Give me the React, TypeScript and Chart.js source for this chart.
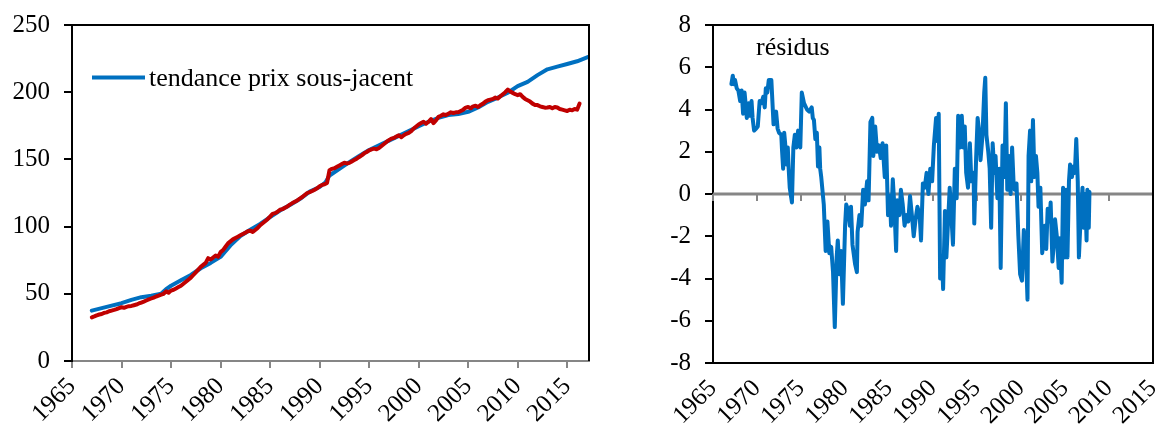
import React, { useEffect, useRef } from "react";
import { Chart, registerables } from "chart.js";

Chart.register(...registerables);

const BLUE = "#0070C0";
const RED = "#C00000";
const AXIS_GREY = "#868686";

// ---- tick labels ----
const leftTickYears = [1965, 1970, 1975, 1980, 1985, 1990, 1995, 2000, 2005, 2010, 2015];
const rightTickYears = [1965, 1970, 1975, 1980, 1985, 1990, 1995, 2000, 2005, 2010, 2015];
const leftYTicks = [0, 50, 100, 150, 200, 250];
const rightYTicks = [-8, -6, -4, -2, 0, 2, 4, 6, 8];

// ---- left panel: trend (blue) ----
const trendYears = [
  1967, 1968, 1969, 1970, 1971, 1972, 1973, 1974, 1974.5, 1975, 1976, 1977, 1978, 1979, 1980,
  1981, 1982, 1983, 1984, 1985, 1986, 1987, 1988, 1989, 1990, 1990.6, 1991, 1992, 1993, 1994,
  1995, 1996, 1997, 1998, 1999, 2000, 2001, 2002, 2003, 2004, 2005, 2006, 2007, 2008, 2009,
  2010, 2011, 2012, 2013, 2014, 2015, 2016, 2017.2,
];
const trendValues = [
  37.5, 39.3, 41.2, 43.0, 45.5, 47.5, 48.5, 50.0, 53.5, 56.0, 60.0, 64.0, 69.0, 73.0, 77.5,
  86.0, 93.0, 97.7, 102.0, 107.0, 112.0, 116.0, 120.5, 126.0, 129.5, 133.0, 138.0, 143.0, 148.0, 152.6,
  157.0, 160.5, 164.0, 167.5, 171.0, 174.7, 178.0, 181.0, 183.0, 183.7, 185.4, 188.6, 192.8, 196.0, 199.6,
  204.5, 207.7, 212.7, 217.0, 219.0, 221.0, 223.0, 226.5,
];

// ---- left panel: observed price (red), quarterly from 1967 Q1 ----
const priceStartYear = 1967;
const priceValues = [
  32.5, 33.2, 34.0, 34.6,
  35.0, 35.8, 36.2, 37.0,
  37.5, 38.0, 38.6, 39.4,
  40.0, 39.6, 40.3, 40.8,
  41.0, 41.5, 42.0, 42.8,
  43.5, 44.2, 45.0, 45.8,
  46.5, 47.2, 48.0, 48.6,
  49.3, 50.0, 51.8, 50.8,
  52.4, 53.0, 54.0, 55.0,
  56.0, 57.5, 59.0, 60.5,
  62.0, 64.0, 66.0, 68.0,
  70.0, 71.5, 73.0, 76.5,
  75.5, 77.0, 78.5, 77.5,
  81.0, 82.5, 85.0, 87.5,
  89.0, 90.5, 91.5, 92.5,
  93.5, 94.5, 95.5, 96.5,
  97.0, 96.0, 97.5, 99.0,
  101.0, 102.5, 104.0, 105.5,
  107.5, 109.5, 110.0, 111.0,
  112.5, 113.0, 114.0, 115.0,
  116.3, 117.5, 118.5, 119.5,
  120.8, 122.0, 123.5, 125.0,
  125.7, 126.5, 127.5, 128.5,
  130.0, 131.0, 131.5, 132.5,
  142.0, 143.0, 143.5, 144.5,
  145.5, 146.5, 147.5, 147.0,
  147.4, 148.5, 149.5, 150.5,
  151.8, 153.0, 154.5, 155.5,
  156.8, 157.5, 158.0, 157.5,
  158.5, 160.0, 161.5, 163.0,
  164.3, 165.5, 166.0, 167.0,
  168.0, 166.5, 168.0, 169.0,
  169.7, 171.0, 173.0, 174.5,
  176.0, 177.0, 178.0, 176.5,
  178.0, 180.0, 177.0, 179.0,
  181.7, 182.5, 183.5, 183.0,
  184.0, 185.0, 184.5, 185.0,
  185.0, 186.0, 187.0, 188.5,
  189.0, 188.0, 189.5, 190.0,
  189.0, 190.5, 191.5, 193.0,
  194.0, 194.5, 195.0, 196.0,
  195.3, 197.0, 198.5, 200.0,
  202.0, 200.5, 199.5, 198.5,
  197.8, 198.5, 196.5, 195.0,
  194.0, 193.0, 191.5, 190.5,
  190.4, 189.5, 189.0, 188.5,
  188.6, 189.0, 188.0, 189.0,
  188.6, 187.5, 187.0, 186.5,
  186.0, 187.0, 186.5, 187.5,
  187.0, 191.6,
];

// ---- right panel: residuals ----
const resYears = [
  1967.09, 1967.25, 1967.38, 1967.5, 1967.7, 1967.88, 1968.09, 1968.25, 1968.42, 1968.59, 1968.7, 1968.84,
  1969.05, 1969.2, 1969.38, 1969.5, 1969.67, 1969.9, 1970.09, 1970.3, 1970.5, 1970.71, 1970.88, 1971.0,
  1971.17, 1971.34, 1971.63, 1971.88, 1972.17, 1972.34, 1972.5, 1972.76, 1972.84, 1972.97, 1973.09, 1973.2,
  1973.34, 1973.5, 1973.6, 1973.72, 1973.97, 1974.13, 1974.3, 1974.47, 1974.67, 1974.92, 1975.09, 1975.34,
  1975.68, 1975.93, 1976.22, 1976.34, 1976.47, 1976.63, 1976.8, 1976.93, 1977.09, 1977.18, 1977.3, 1977.59,
  1977.8, 1978.0, 1978.22, 1978.43, 1978.64, 1978.84, 1979.05, 1979.18, 1979.39, 1979.55, 1979.76, 1980.01,
  1980.14, 1980.39, 1980.55, 1980.68, 1980.85, 1981.14, 1981.35, 1981.43, 1981.64, 1981.85, 1982.06, 1982.26,
  1982.51, 1982.68, 1982.89, 1983.1, 1983.22, 1983.43, 1983.64, 1983.85, 1984.06, 1984.27, 1984.52, 1984.68,
  1984.89, 1985.1, 1985.23, 1985.43, 1985.6, 1985.81, 1985.93, 1986.18, 1986.35, 1986.56, 1986.77, 1986.98,
  1987.19, 1987.39, 1987.6, 1987.81, 1988.02, 1988.23, 1988.48, 1988.64, 1988.85, 1989.06, 1989.27, 1989.48,
  1989.69, 1989.9, 1990.1, 1990.35, 1990.52, 1990.65, 1990.81, 1991.02, 1991.15, 1991.36, 1991.52, 1991.69,
  1991.9, 1992.11, 1992.27, 1992.48, 1992.69, 1992.86, 1993.07, 1993.27, 1993.44, 1993.61, 1993.77, 1993.98,
  1994.19, 1994.36, 1994.61, 1994.69, 1994.9, 1995.07, 1995.28, 1995.4, 1995.61, 1995.82, 1995.94, 1996.07,
  1996.28, 1996.44, 1996.61, 1996.78, 1996.98, 1997.11, 1997.32, 1997.53, 1997.69, 1997.9, 1998.11, 1998.28,
  1998.44, 1998.65, 1998.82, 1998.99, 1999.15, 1999.28, 1999.49, 1999.7, 1999.9, 2000.11, 2000.32, 2000.53,
  2000.74, 2000.86, 2001.03, 2001.16, 2001.36, 2001.53, 2001.7, 2001.86, 2001.99, 2002.2, 2002.41, 2002.61,
  2002.7, 2002.87, 2003.03, 2003.24, 2003.37, 2003.57, 2003.7, 2003.87, 2004.07, 2004.28, 2004.41, 2004.62,
  2004.78, 2004.95, 2005.12, 2005.28, 2005.45, 2005.58, 2005.79, 2005.95, 2006.12, 2006.28, 2006.45, 2006.58,
  2006.79, 2006.99, 2007.12, 2007.29, 2007.45, 2007.54, 2007.7, 2007.78,
];
const resValues = [
  5.2, 5.6, 5.2, 5.4, 5.0, 4.9, 4.4, 4.9, 3.8, 4.8, 4.3, 3.6,
  4.3, 3.7, 4.4, 3.6, 3.0, 3.1, 3.2, 4.4, 4.3, 4.6, 4.1, 5.0,
  4.8, 5.4, 5.4, 3.3, 3.9, 3.1, 2.9, 2.8, 2.1, 1.2, 2.9, 2.4,
  1.4, 2.2, 1.2, 0.3, -0.4, 2.2, 2.8, 2.2, 3.0, 2.2, 4.8, 4.3,
  4.0, 3.9, 4.1, 3.6, 3.5, 2.6, 2.9, 1.3, 2.2, 1.2, 0.8, -0.5,
  -2.7, -1.3, -2.8, -2.5, -3.7, -6.3, -3.0, -2.2, -3.8, -2.7, -5.2, -1.5,
  -0.5, -0.8, -1.5, -0.6, -2.4, -3.3, -3.7, -1.8, -1.0, -1.5, 0.2, -0.5,
  0.6, -0.3, 3.4, 3.6, 1.8, 3.2, 2.0, 2.3, 1.7, 2.4, 0.8, 2.3,
  -1.0, -0.1, -1.5, 0.7, -0.5, -2.7, -0.3, -1.0, 0.2, -0.5, -1.5, -1.0,
  -1.3, -0.1, -1.0, -2.0, -1.2, -0.6, -1.0, -2.2, 0.5, 0.3, 1.0, 0.0,
  1.2, 0.6, 2.3, 3.6, 2.5, 3.8, -4.0, -3.0, -4.5, -0.8, -3.0, -1.5,
  0.3, -1.2, -2.4, 1.2, -0.2, 3.7, 2.2, 3.7, 2.2, 3.2, 1.0, 0.3,
  2.4, 0.6, 1.0, -1.4, 1.7, 3.6, 2.8, 1.6, 2.7, 4.8, 5.5, 2.8,
  2.0, 1.2, -1.6, 2.4, 1.0, 1.8, -0.2, 1.2, -3.5, 2.3, 0.8, 4.3,
  0.2, 1.8, 0.0, 2.2, 0.6, 0.2, 0.5, -2.0, -3.8, -4.1, -1.7, -2.5,
  -5.0, 1.8, 3.0, 0.6, 3.5, 0.8, 1.8, 1.0, -0.6, 0.3, -2.8, -2.0,
  -1.5, -2.6, -0.7, -1.3, -0.4, -3.2, -2.5, -1.2, -2.0, -3.5, -2.1, -4.2,
  0.3, -3.0, 0.2, -3.0, 0.6, 1.4, 0.8, 1.3, 1.0, 2.6, 0.6, -3.0,
  -1.0, 0.3, -1.6, 0.0, -2.2, 0.2, -1.6, 0.1,
];

const LEGEND_LABEL = "tendance prix sous-jacent";
const RESID_LABEL = "résidus";

const FONT_FAMILY = "'Liberation Serif', 'Times New Roman', serif";
const FONT_SIZE = 25;
const TEXT_SIZE = 26;

Chart.defaults.font.family = FONT_FAMILY;
Chart.defaults.font.size = FONT_SIZE;
Chart.defaults.color = "#000";

const frameTopRight = {
  id: "frameTopRight",
  afterDatasetsDraw(chart: any) {
    const { ctx, chartArea } = chart;
    ctx.save();
    ctx.strokeStyle = "#000";
    ctx.lineWidth = 2;
    ctx.beginPath();
    ctx.moveTo(chartArea.left, chartArea.top);
    ctx.lineTo(chartArea.right, chartArea.top);
    ctx.lineTo(chartArea.right, chartArea.bottom);
    ctx.stroke();
    ctx.restore();
  },
};

const legendPlugin = {
  id: "legendInside",
  afterDraw(chart: any) {
    const { ctx, chartArea } = chart;
    const y = chartArea.top + 52.5;
    ctx.save();
    ctx.strokeStyle = BLUE;
    ctx.lineWidth = 4;
    ctx.beginPath();
    ctx.moveTo(chartArea.left + 20, y);
    ctx.lineTo(chartArea.left + 73, y);
    ctx.stroke();
    ctx.fillStyle = "#000";
    ctx.font = `${TEXT_SIZE}px ${FONT_FAMILY}`;
    ctx.textBaseline = "alphabetic";
    ctx.textAlign = "left";
    ctx.fillText(LEGEND_LABEL, chartArea.left + 77, chartArea.top + 61);
    ctx.restore();
  },
};

const residLabelPlugin = {
  id: "residLabel",
  afterDraw(chart: any) {
    const { ctx, chartArea } = chart;
    ctx.save();
    ctx.fillStyle = "#000";
    ctx.font = `${TEXT_SIZE}px ${FONT_FAMILY}`;
    ctx.textBaseline = "alphabetic";
    ctx.textAlign = "left";
    ctx.fillText(RESID_LABEL, chartArea.left + 43, chartArea.top + 30);
    ctx.restore();
  },
};

const zeroLinePlugin = {
  id: "zeroLine",
  beforeDatasetsDraw(chart: any) {
    const { ctx, chartArea, scales } = chart;
    const y0 = scales.y.getPixelForValue(0);
    ctx.save();
    ctx.strokeStyle = AXIS_GREY;
    ctx.lineWidth = 3;
    ctx.beginPath();
    ctx.moveTo(chartArea.left, y0);
    ctx.lineTo(chartArea.right, y0);
    ctx.stroke();
    ctx.lineWidth = 2;
    for (const v of rightTickYears) {
      const x = Math.round(scales.x.getPixelForValue(v));
      ctx.beginPath();
      ctx.moveTo(x, y0);
      ctx.lineTo(x, y0 + 7);
      ctx.stroke();
    }
    ctx.restore();
  },
};

const fitX = (h: number) => (s: any) => {
  s.height = h;
  s.paddingLeft = 0;
  s.paddingRight = 0;
  s.paddingTop = 0;
  s.paddingBottom = 0;
};
const fitY = (w: number) => (s: any) => {
  s.width = w;
  s.paddingLeft = 0;
  s.paddingRight = 0;
  s.paddingTop = 0;
  s.paddingBottom = 0;
};

function leftConfig(): any {
  const trendData = trendYears.map((x, i) => ({ x, y: trendValues[i] }));
  const priceData = priceValues.map((y, i) => ({ x: priceStartYear + i * 0.25, y }));
  return {
    type: "line",
    data: {
      datasets: [
        {
          label: "prix",
          data: priceData,
          borderColor: RED,
          borderWidth: 4,
          pointRadius: 0,
          borderJoinStyle: "round",
          borderCapStyle: "round",
          order: 0,
        },
        {
          label: LEGEND_LABEL,
          data: trendData,
          borderColor: BLUE,
          borderWidth: 4,
          pointRadius: 0,
          borderJoinStyle: "round",
          borderCapStyle: "round",
          order: 1,
        },
      ],
    },
    options: {
      animation: false,
      responsive: false,
      devicePixelRatio: 1,
      layout: { padding: { top: 25, right: 11, left: 0, bottom: 0 } },
      plugins: { legend: { display: false }, tooltip: { enabled: false } },
      scales: {
        x: {
          type: "linear",
          min: 1965,
          max: 2017.2,
          afterBuildTicks: (s: any) => {
            s.ticks = leftTickYears.map((v) => ({ value: v }));
          },
          afterFit: fitX(69),
          ticks: {
            autoSkip: false,
            minRotation: 45,
            maxRotation: 45,
            padding: 4,
            callback: (v: any) => String(v),
          },
          grid: {
            display: true,
            drawOnChartArea: false,
            drawTicks: true,
            tickLength: 7,
            color: AXIS_GREY,
            lineWidth: 2,
          },
          border: { display: true, color: AXIS_GREY, width: 2 },
        },
        y: {
          type: "linear",
          min: 0,
          max: 250,
          afterBuildTicks: (s: any) => {
            s.ticks = leftYTicks.map((v) => ({ value: v }));
          },
          afterFit: fitY(72),
          ticks: { padding: 14, callback: (v: any) => String(v) },
          grid: { drawOnChartArea: false, drawTicks: true, tickLength: 8, color: "#000", lineWidth: 2 },
          border: { display: true, color: "#000", width: 2 },
        },
      },
    },
    plugins: [frameTopRight, legendPlugin],
  };
}

function rightConfig(): any {
  const resData = resYears.map((x, i) => ({ x, y: resValues[i] }));
  return {
    type: "line",
    data: {
      datasets: [
        {
          label: RESID_LABEL,
          data: resData,
          borderColor: BLUE,
          borderWidth: 4,
          pointRadius: 0,
          borderJoinStyle: "round",
          borderCapStyle: "round",
        },
      ],
    },
    options: {
      animation: false,
      responsive: false,
      devicePixelRatio: 1,
      layout: { padding: { top: 25, right: 4, left: 0, bottom: 0 } },
      plugins: { legend: { display: false }, tooltip: { enabled: false } },
      scales: {
        x: {
          type: "linear",
          min: 1965,
          max: 2015,
          afterBuildTicks: (s: any) => {
            s.ticks = rightTickYears.map((v) => ({ value: v }));
          },
          afterFit: fitX(67),
          ticks: {
            autoSkip: false,
            minRotation: 45,
            maxRotation: 45,
            padding: 11,
            callback: (v: any) => String(v),
          },
          grid: { display: false, drawOnChartArea: false, drawTicks: false },
          border: { display: true, color: "#000", width: 2 },
        },
        y: {
          type: "linear",
          min: -8,
          max: 8,
          afterBuildTicks: (s: any) => {
            s.ticks = rightYTicks.map((v) => ({ value: v }));
          },
          afterFit: fitY(113),
          ticks: { padding: 14, callback: (v: any) => String(v) },
          grid: { drawOnChartArea: false, drawTicks: true, tickLength: 8, color: "#000", lineWidth: 2 },
          border: { display: true, color: "#000", width: 2 },
        },
      },
    },
    plugins: [zeroLinePlugin, frameTopRight, residLabelPlugin],
  };
}

export default function App() {
  const leftRef = useRef<HTMLCanvasElement | null>(null);
  const rightRef = useRef<HTMLCanvasElement | null>(null);

  useEffect(() => {
    const c1 = new Chart(leftRef.current as HTMLCanvasElement, leftConfig());
    const c2 = new Chart(rightRef.current as HTMLCanvasElement, rightConfig());
    return () => {
      c1.destroy();
      c2.destroy();
    };
  }, []);

  return (
    <div style={{ position: "absolute", left: 0, top: 0, width: 1157, height: 430, background: "#fff" }}>
      <canvas
        ref={leftRef}
        width={600}
        height={430}
        style={{ position: "absolute", left: 0, top: 0, width: 600, height: 430 }}
      />
      <canvas
        ref={rightRef}
        width={557}
        height={430}
        style={{ position: "absolute", left: 600, top: 0, width: 557, height: 430 }}
      />
    </div>
  );
}
